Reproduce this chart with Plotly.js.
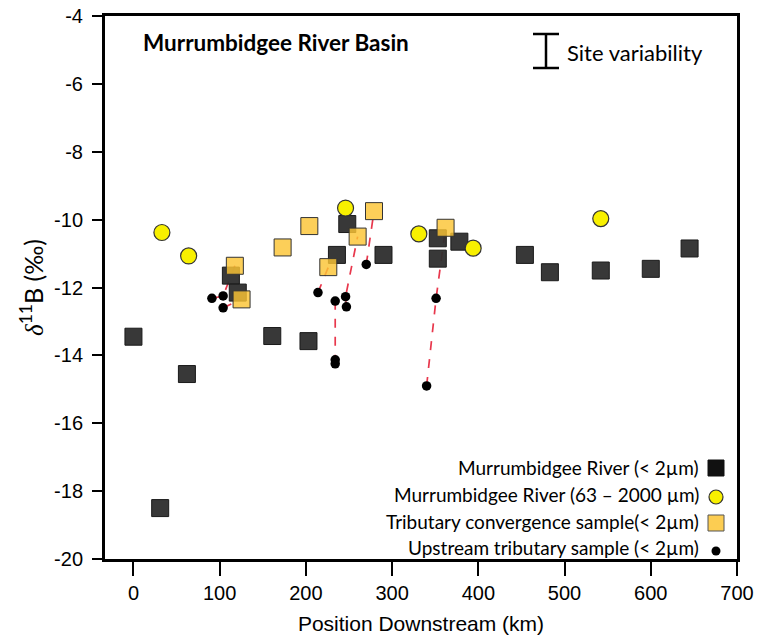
<!DOCTYPE html>
<html>
<head>
<meta charset="utf-8">
<script src="https://cdn.plot.ly/plotly-3.0.1.min.js"></script>
<style>html,body{margin:0;padding:0;background:#fff;}#chart{width:758px;height:639px;}</style>
</head>
<body>
<div id="chart"></div>
<script>
// Murrumbidgee River (< 2 µm)
const riverX = [0, 31, 62, 113, 121, 161, 203, 236, 248, 290, 353, 353, 378, 454, 483, 542, 600, 645];
const riverY = [-13.45, -18.5, -14.55, -11.65, -12.15, -13.43, -13.58, -11.04, -10.13, -11.04, -10.55, -11.15, -10.65, -11.04, -11.55, -11.5, -11.45, -10.85];
// Murrumbidgee River (63 – 2000 µm)
const coarseX = [33, 64, 246, 331, 394, 542];
const coarseY = [-10.38, -11.07, -9.66, -10.42, -10.84, -9.97];
// Tributary convergence sample (< 2 µm)
const convX = [117.6, 125.4, 173, 204, 226, 260, 279, 362];
const convY = [-11.36, -12.35, -10.82, -10.19, -11.4, -10.5, -9.75, -10.24];
// Upstream tributary sample (< 2 µm)
const upX = [91, 104, 104, 214, 234, 234, 234, 246, 247, 270, 340, 351];
const upY = [-12.32, -12.25, -12.6, -12.15, -12.4, -14.13, -14.25, -12.27, -12.57, -11.32, -14.9, -12.32];
// Connections (u = upstream index, c = convergence index)
const links = [
  ['u0', 'u1', 'c0'],
  ['u2', 'c1'],
  ['u3', 'c4'],
  ['u6', 'u4', 'u8', 'u7', 'c5'],
  ['u9', 'c6'],
  ['u10', 'u11', 'c7']
];
const yTickVals = [-4, -6, -8, -10, -12, -14, -16, -18, -20];
const yTickText = ['-4', '-6', '-8', '-10', '-12', '-14', '-16', '-18', '-20'];
const xTickVals = [0, 100, 200, 300, 400, 500, 600, 700];
const legendLabels = ['Murrumbidgee River (< 2µm)', 'Murrumbidgee River (63 – 2000 µm)', 'Tributary convergence sample(< 2µm)', 'Upstream tributary sample (< 2µm)'];

const lx = [], ly = [];
links.forEach(path => {
  path.forEach(ref => {
    const i = parseInt(ref.slice(1));
    if (ref[0] === 'u') { lx.push(upX[i]); ly.push(upY[i]); }
    else { lx.push(convX[i]); ly.push(convY[i]); }
  });
  lx.push(null); ly.push(null);
});

const traces = [
  {x: lx, y: ly, mode: 'lines', type: 'scatter', connectgaps: false,
   line: {color: '#e8374c', width: 1.7, dash: 'dash'}, hoverinfo: 'skip'},
  {x: riverX, y: riverY, mode: 'markers', type: 'scatter',
   marker: {symbol: 'square', size: 17, color: 'rgba(45,45,45,0.95)', line: {color: '#1a1a1a', width: 1}}},
  {x: coarseX, y: coarseY, mode: 'markers', type: 'scatter',
   marker: {symbol: 'circle', size: 16, color: '#f8f000', line: {color: '#333', width: 1.2}}},
  {x: convX, y: convY, mode: 'markers', type: 'scatter',
   marker: {symbol: 'square', size: 17, color: 'rgba(251,196,52,0.82)', line: {color: '#333', width: 1}}},
  {x: upX, y: upY, mode: 'markers', type: 'scatter',
   marker: {symbol: 'circle', size: 9.5, color: '#000', line: {width: 0}}}
];

const W = 632, H = 543;
function px(x) { return (x - 105) / W; }
function py(y) { return (559 - y) / H; }

const legY = [467, 494, 521, 547];
const annotations = [
  {text: '<b>Murrumbidgee River Basin</b>', xref: 'paper', yref: 'paper', x: px(141), y: py(43),
   xanchor: 'left', yanchor: 'middle', showarrow: false, font: {family: 'Lato, sans-serif', size: 22.5, color: '#000'}},
  {text: 'Site variability', xref: 'paper', yref: 'paper', x: px(565), y: py(52),
   xanchor: 'left', yanchor: 'middle', showarrow: false, font: {family: 'Lato, sans-serif', size: 22, color: '#000'}}
];
legendLabels.forEach((t, i) => {
  annotations.push({text: t, xref: 'paper', yref: 'paper', x: px(701), y: py(legY[i]),
    xanchor: 'right', yanchor: 'middle', showarrow: false, font: {family: 'Lato, sans-serif', size: 19, color: '#000'}});
});

const cx = px(716);
const shapes = [
  // site variability I-beam
  {type: 'line', xref: 'paper', yref: 'paper', x0: px(546), x1: px(546), y0: py(34), y1: py(68), line: {color: '#000', width: 2.5}},
  {type: 'line', xref: 'paper', yref: 'paper', x0: px(533), x1: px(559), y0: py(34), y1: py(34), line: {color: '#000', width: 2.5}},
  {type: 'line', xref: 'paper', yref: 'paper', x0: px(533), x1: px(559), y0: py(68), y1: py(68), line: {color: '#000', width: 2.5}},
  // legend symbols
  {type: 'rect', xref: 'paper', yref: 'paper', xsizemode: 'pixel', ysizemode: 'pixel', xanchor: cx, yanchor: py(legY[0] + 1),
   x0: -8, x1: 8, y0: -8, y1: 8, fillcolor: '#111', line: {color: '#111', width: 1}},
  {type: 'circle', xref: 'paper', yref: 'paper', xsizemode: 'pixel', ysizemode: 'pixel', xanchor: cx, yanchor: py(legY[1] + 3),
   x0: -7, x1: 7, y0: -7, y1: 7, fillcolor: '#f8f000', line: {color: '#333', width: 1.2}},
  {type: 'rect', xref: 'paper', yref: 'paper', xsizemode: 'pixel', ysizemode: 'pixel', xanchor: cx, yanchor: py(legY[2] + 2),
   x0: -8, x1: 8, y0: -8, y1: 8, fillcolor: 'rgba(251,196,52,0.85)', line: {color: '#555', width: 1}},
  {type: 'circle', xref: 'paper', yref: 'paper', xsizemode: 'pixel', ysizemode: 'pixel', xanchor: cx, yanchor: py(legY[3] + 4),
   x0: -4.5, x1: 4.5, y0: -4.5, y1: 4.5, fillcolor: '#000', line: {color: '#000', width: 0}}
];

const layout = {
  width: 758, height: 639,
  margin: {l: 105, r: 21, t: 16, b: 80},
  paper_bgcolor: '#fff', plot_bgcolor: '#fff',
  showlegend: false,
  xaxis: {
    range: [-33, 700], tickvals: xTickVals, ticks: 'outside', ticklen: 14, tickwidth: 2, tickcolor: '#000',
    showline: true, linewidth: 3, linecolor: '#000', mirror: true, showgrid: false, zeroline: false,
    tickfont: {family: 'Liberation Sans, Arial, sans-serif', size: 20, color: '#000'},
    title: {text: 'Position Downstream (km)', font: {family: 'Liberation Sans, Arial, sans-serif', size: 21, color: '#000'}, standoff: 14}
  },
  yaxis: {
    range: [-20, -4], tickvals: yTickVals, ticktext: yTickText, ticks: 'outside', ticklen: 10, tickwidth: 2, tickcolor: '#000',
    ticklabelstandoff: 5,
    showline: true, linewidth: 3, linecolor: '#000', mirror: true, showgrid: false, zeroline: false,
    tickfont: {family: 'Liberation Sans, Arial, sans-serif', size: 20, color: '#000'},
    title: {text: '<span style="font-family:Liberation Serif, DejaVu Serif, serif"><i>δ</i></span><sup>11</sup>B (‰)', font: {family: 'Lato, sans-serif', size: 25, color: '#000'}, standoff: 4}
  },
  annotations: annotations,
  shapes: shapes
};

Plotly.newPlot('chart', traces, layout, {displayModeBar: false, staticPlot: true});
</script>
</body>
</html>
